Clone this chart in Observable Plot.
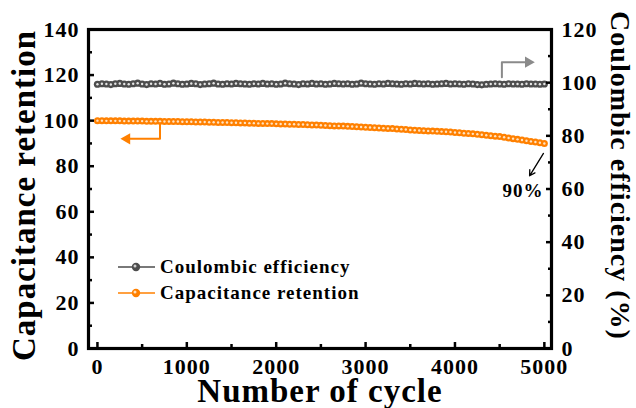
<!DOCTYPE html>
<html>
<head>
<meta charset="utf-8">
<script src="https://cdn.jsdelivr.net/npm/d3@7"></script>
<script src="https://cdn.jsdelivr.net/npm/@observablehq/plot@0.6"></script>
<style>
  html, body { margin: 0; padding: 0; background: #fff; }
  #chart svg text { letter-spacing: 1px; }
</style>
</head>
<body>
<div id="chart"></div>
<script>
// ---- data ----
const cycles = d3.range(0, 5001, 50); // sampled every 50 cycles

const retention = [
  100.0, 100.0, 99.9, 99.9, 99.9, 99.9, 99.8, 99.8, 99.8, 99.8, 99.8,
  99.7, 99.7, 99.7, 99.7, 99.6, 99.6, 99.6, 99.6, 99.5, 99.5,
  99.5, 99.4, 99.4, 99.4, 99.3, 99.3, 99.2, 99.2, 99.2, 99.1,
  99.1, 99.0, 99.0, 98.9, 98.9, 98.8, 98.8, 98.7, 98.7, 98.6,
  98.5, 98.5, 98.4, 98.4, 98.3, 98.3, 98.2, 98.1, 98.1, 98.0,
  97.9, 97.8, 97.7, 97.7, 97.6, 97.5, 97.4, 97.3, 97.2, 97.1,
  97.0, 96.9, 96.8, 96.7, 96.6, 96.5, 96.3, 96.2, 96.1, 95.9,
  95.8, 95.7, 95.6, 95.5, 95.4, 95.3, 95.2, 95.1, 95.0, 94.8,
  94.7, 94.5, 94.4, 94.2, 94.0, 93.8, 93.6, 93.4, 93.2, 93.0,
  92.7, 92.4, 92.1, 91.8, 91.5, 91.2, 90.9, 90.6, 90.3, 90.0
];

const coulombic = [
  99.4, 99.6, 99.5, 99.3, 99.6, 99.7, 99.5, 99.4, 99.6, 99.8,
  99.5, 99.3, 99.6, 99.5, 99.7, 99.4, 99.5, 99.8, 99.6, 99.4,
  99.5, 99.7, 99.6, 99.3, 99.5, 99.6, 99.8, 99.5, 99.4, 99.6,
  99.5, 99.7, 99.6, 99.5, 99.4, 99.6, 99.5, 99.7, 99.5, 99.6,
  99.4, 99.5, 99.8, 99.6, 99.5, 99.3, 99.6, 99.5, 99.7, 99.5,
  99.6, 99.4, 99.5, 99.7, 99.6, 99.5, 99.6, 99.4, 99.5, 99.8,
  99.6, 99.5, 99.4, 99.6, 99.5, 99.7, 99.6, 99.5, 99.4, 99.6,
  99.5, 99.7, 99.6, 99.5, 99.6, 99.4, 99.5, 99.6, 99.7, 99.5,
  99.6, 99.5, 99.4, 99.6, 99.5, 99.3, 99.2, 99.4, 99.5, 99.6,
  99.5, 99.4, 99.6, 99.5, 99.5, 99.4, 99.6, 99.5, 99.5, 99.4, 99.5
];

const xTicksMajor = [0, 1000, 2000, 3000, 4000, 5000];
const xTicksMinor = [500, 1500, 2500, 3500, 4500];
const leftTicksMajor = [0, 20, 40, 60, 80, 100, 120, 140];
const leftTicksMinor = [10, 30, 50, 70, 90, 110, 130];
const rightTicksMajor = [0, 20, 40, 60, 80, 100, 120];
const rightTicksMinor = [10, 30, 50, 70, 90, 110];

const seriesNames = ["Coulombic efficiency", "Capacitance retention"];
const xTitle = "Number of cycle";
const leftTitle = "Capacitance retention";
const rightTitle = "Coulombic efficiency (%)";

// annotations (cycle, value on own axis)
const retentionArrow = [{x: 700, y: 98.9}, {x: 700, y: 92.0}, {x: 360, y: 92.0}];
const retentionArrowHead = [{x: 330, y: 92.0}];
const ceArrow = [{x: 4525, y: 102.0}, {x: 4525, y: 107.7}, {x: 4790, y: 107.7}];
const ceArrowHead = [{x: 4820, y: 107.7}];
const endArrow = [{x1: 4990, y1: 85.6, x2: 4835, y2: 75.8}];
const endLabel = [{x: 4760, y: 69.3, text: "90%"}];

// ---- scales helpers ----
const LEFT_MAX = 140, RIGHT_MAX = 120;
const k = LEFT_MAX / RIGHT_MAX; // right-axis units -> left-axis units

const ceData = cycles.map((c, i) => ({cycle: c, v: coulombic[i] * k}));
const retData = cycles.map((c, i) => ({cycle: c, v: retention[i]}));

const GRAY = "#4d4d4d";
const ORANGE = "#ff8000";
const ARROW_GRAY = "#8a8a8a";
const FONT = "'Liberation Serif', 'Times New Roman', serif";

const axisCommon = {stroke: "#000", strokeWidth: 2.5, label: null, fill: "#000"};

const chart = Plot.plot({
  width: 636,
  height: 408,
  marginLeft: 88,
  marginRight: 85,
  marginTop: 29,
  marginBottom: 60,
  x: {domain: [-100, 5080], label: null},
  y: {domain: [0, LEFT_MAX], label: null},
  style: {fontFamily: FONT, fontWeight: "bold", background: "#fff", overflow: "visible", color: "#000"},
  marks: [
    // Coulombic efficiency
    Plot.line(ceData, {x: "cycle", y: "v", stroke: GRAY, strokeWidth: 1.5}),
    Plot.dot(ceData, {x: "cycle", y: "v", r: 3.6, fill: GRAY, stroke: null}),
    Plot.dot(ceData, {x: "cycle", y: "v", r: 1.2, fill: "#e6e6e6", stroke: null}),
    // Capacitance retention
    Plot.line(retData, {x: "cycle", y: "v", stroke: ORANGE, strokeWidth: 1.5}),
    Plot.dot(retData, {x: "cycle", y: "v", r: 3.5, fill: ORANGE, stroke: null}),
    Plot.dot(retData, {x: "cycle", y: "v", r: 1.2, fill: "#ffe3c4", stroke: null}),

    // annotation arrows
    Plot.line(retentionArrow, {x: "x", y: "y", stroke: ORANGE, strokeWidth: 2}),
    Plot.dot(retentionArrowHead, {x: "x", y: "y", symbol: "triangle", rotate: -90, r: 4.2, fill: ORANGE, stroke: null}),
    Plot.line(ceArrow, {x: "x", y: d => d.y * k, stroke: ARROW_GRAY, strokeWidth: 2}),
    Plot.dot(ceArrowHead, {x: "x", y: d => d.y * k, symbol: "triangle", rotate: 90, r: 4.2, fill: ARROW_GRAY, stroke: null}),
    Plot.arrow(endArrow, {x1: "x1", y1: "y1", x2: "x2", y2: "y2", stroke: "#000", strokeWidth: 1.3, headLength: 7}),
    Plot.text(endLabel, {x: "x", y: "y", text: "text", fontSize: 19, fill: "#000"}),

    // frame
    Plot.frame({stroke: "#000", strokeWidth: 3.2}),

    // bottom axis
    Plot.axisX({...axisCommon, ticks: xTicksMajor, tickSize: -6, tickPadding: 16, fontSize: 22, tickFormat: d => String(d)}),
    Plot.axisX({...axisCommon, ticks: xTicksMinor, tickSize: -4, tickFormat: () => ""}),
    // left axis
    Plot.axisY({...axisCommon, anchor: "left", ticks: leftTicksMajor, tickSize: -6, tickPadding: 15, fontSize: 22, tickFormat: d => String(d)}),
    Plot.axisY({...axisCommon, anchor: "left", ticks: leftTicksMinor, tickSize: -4, tickFormat: () => ""}),
    // right axis (Coulombic efficiency, %)
    Plot.axisY({...axisCommon, anchor: "right", ticks: rightTicksMajor.map(d => d * k), tickSize: -6, tickPadding: 16, fontSize: 22, tickFormat: d => String(Math.round(d / k))}),
    Plot.axisY({...axisCommon, anchor: "right", ticks: rightTicksMinor.map(d => d * k), tickSize: -4, tickFormat: () => ""}),

    // axis titles
    Plot.text([xTitle], {frameAnchor: "bottom", text: d => d, dy: 43, fontSize: 33, fill: "#000", textAnchor: "middle", lineAnchor: "middle"}),
    Plot.text([leftTitle], {frameAnchor: "left", text: d => d, dx: -64, dy: 6.5, rotate: -90, fontSize: 33, fill: "#000", textAnchor: "middle", lineAnchor: "middle"}),
    Plot.text([rightTitle], {frameAnchor: "right", text: d => d, dx: 68, dy: -13.5, rotate: 90, fontSize: 28, fill: "#000", textAnchor: "middle", lineAnchor: "middle"})
  ]
});

document.getElementById("chart").appendChild(chart);

// ---- legend (inside plot area) ----
const svg = d3.select(chart);
const legend = svg.append("g").attr("class", "legend").attr("text-anchor", "start");
const legendColors = [GRAY, ORANGE];
const legendHighlight = ["#cfcfcf", "#ffe0bd"];
seriesNames.forEach((name, i) => {
  const y = 267 + i * 26;
  legend.append("line").attr("x1", 118).attr("x2", 155).attr("y1", y).attr("y2", y)
    .attr("stroke", legendColors[i]).attr("stroke-width", 1.5);
  legend.append("circle").attr("cx", 136).attr("cy", y).attr("r", 4.2).attr("fill", legendColors[i]);
  legend.append("circle").attr("cx", 135).attr("cy", y - 1).attr("r", 1.5).attr("fill", legendHighlight[i]);
  legend.append("text").attr("x", 160).attr("y", y + 6).attr("text-anchor", "start")
    .attr("font-size", 19).attr("font-weight", "bold").attr("font-family", FONT)
    .attr("fill", "#000").text(name);
});
</script>
</body>
</html>
